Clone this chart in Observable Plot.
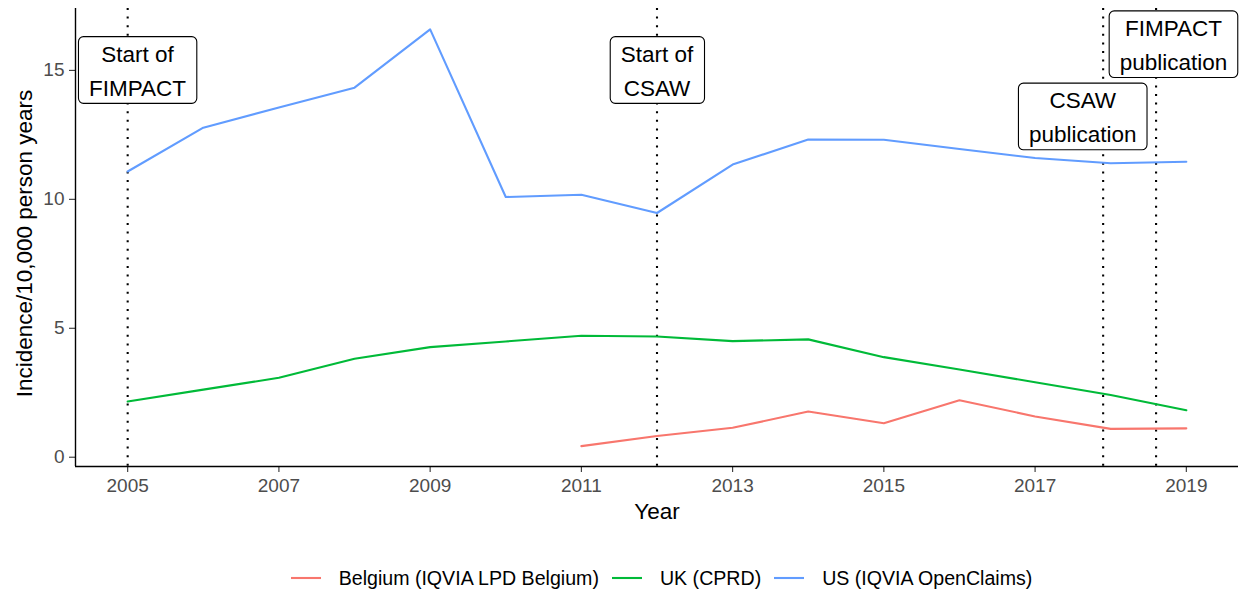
<!DOCTYPE html>
<html>
<head>
<meta charset="utf-8">
<script src="https://cdn.jsdelivr.net/npm/d3@7"></script>
<script src="https://cdn.jsdelivr.net/npm/@observablehq/plot@0.6"></script>
<style>
  body { margin: 0; background: #fff; font-family: "Liberation Sans", Arial, sans-serif; }
  #chart { width: 1239px; height: 592px; overflow: hidden; }
  .legend { display: flex; justify-content: center; align-items: center; margin-top: 26px; height: 24px; font-size: 19.6px; color: #000; transform: translateX(42px); }
  .legend .item { display: flex; align-items: center; margin: 0 6.5px; }
  .legend .item span { margin-left: 18px; white-space: nowrap; }
</style>
</head>
<body>
<div id="chart"></div>
<script>
// ---- data ----
const years = [2005, 2006, 2007, 2008, 2009, 2010, 2011, 2012, 2013, 2014, 2015, 2016, 2017, 2018, 2019];
const usValues = [11.08, 12.78, 13.56, 14.33, 16.59, 10.09, 10.18, 9.47, 11.35, 12.32, 12.31, 11.95, 11.60, 11.40, 11.46];
const ukValues = [2.16, 2.62, 3.08, 3.82, 4.27, 4.49, 4.71, 4.68, 4.50, 4.57, 3.88, 3.40, 2.91, 2.41, 1.82];
const belgiumYears = [2011, 2012, 2013, 2014, 2015, 2016, 2017, 2018, 2019];
const belgiumValues = [0.43, 0.82, 1.14, 1.77, 1.32, 2.21, 1.58, 1.10, 1.12];
const seriesNames = ["Belgium (IQVIA LPD Belgium)", "UK (CPRD)", "US (IQVIA OpenClaims)"];
const seriesColors = ["#F8766D", "#00BA38", "#619CFF"];
const eventDates = [2005, 2012, 2017.9, 2018.6];
const eventLabels = ["Start of\nFIMPACT", "Start of\nCSAW", "CSAW\npublication", "FIMPACT\npublication"];
const eventLabelX = [2005.13, 2012, 2017.63, 2018.83];
const eventLabelY = [15.1, 15.1, 13.3, 16.1];
const xTicks = [2005, 2007, 2009, 2011, 2013, 2015, 2017, 2019];
const yTicks = [0, 5, 10, 15];
const xDomain = [2004.31, 2019.69];
const yDomain = [-0.36, 17.40];

// ---- tables ----
const rows = [
  ...belgiumYears.map((yr, i) => ({year: yr, value: belgiumValues[i], series: seriesNames[0]})),
  ...years.map((yr, i) => ({year: yr, value: ukValues[i], series: seriesNames[1]})),
  ...years.map((yr, i) => ({year: yr, value: usValues[i], series: seriesNames[2]}))
];
const labelRows = eventLabels.map((t, i) => ({x: eventLabelX[i], y: eventLabelY[i], text: t}));

const fontFamily = '"Liberation Sans", Arial, sans-serif';

const plot = Plot.plot({
  width: 1239,
  height: 540,
  marginLeft: 75,
  marginRight: 1,
  marginTop: 8,
  marginBottom: 74,
  style: {fontFamily, background: "#fff", overflow: "visible"},
  x: {domain: xDomain},
  y: {domain: yDomain},
  color: {domain: seriesNames, range: seriesColors},
  marks: [
    Plot.ruleX(eventDates, {stroke: "#000", strokeWidth: 2.1, strokeDasharray: "2,6.6"}),
    Plot.line(rows, {x: "year", y: "value", stroke: "series", z: "series", strokeWidth: 2.1}),
    Plot.text(labelRows, {x: "x", y: "y", text: "text", fontSize: 22.5, lineHeight: 1.52, fill: "#000"}),
    Plot.axisX({ticks: xTicks, tickSize: 6, tickPadding: 6, tickFormat: d => String(d), fontSize: 19, fill: "#4D4D4D", stroke: "#333", strokeWidth: 1.1, label: null}),
    Plot.axisY({ticks: yTicks, tickSize: 6, tickPadding: 5, tickFormat: d => String(d), fontSize: 19, fill: "#4D4D4D", stroke: "#333", strokeWidth: 1.1, label: null}),
    Plot.ruleY([yDomain[0]], {stroke: "#000", strokeWidth: 1.4}),
    Plot.ruleX([xDomain[0]], {stroke: "#000", strokeWidth: 1.4}),
    Plot.text(["Year"], {frameAnchor: "bottom", dy: 45, lineAnchor: "middle", fontSize: 22.5, fill: "#000"}),
    Plot.text(["Incidence/10,000 person years"], {frameAnchor: "left", rotate: -90, dx: -51, dy: 6, textAnchor: "middle", lineAnchor: "middle", fontSize: 22.5, fill: "#000"})
  ]
});

const chart = document.getElementById("chart");
chart.appendChild(plot);

// boxes behind the event labels (geom_label style)
const ns = "http://www.w3.org/2000/svg";
const wanted = new Set(eventLabels.map(s => s.replace(/\n/g, "")));
plot.querySelectorAll("text").forEach(t => {
  if (!wanted.has(t.textContent)) return;
  const b = t.getBBox();
  const r = document.createElementNS(ns, "rect");
  const padX = 10.5, padTop = 5, padBottom = 2.5;
  r.setAttribute("x", b.x - padX);
  r.setAttribute("y", b.y - padTop);
  r.setAttribute("width", b.width + 2 * padX);
  r.setAttribute("height", b.height + padTop + padBottom);
  r.setAttribute("rx", 5);
  r.setAttribute("ry", 5);
  r.setAttribute("fill", "#fff");
  r.setAttribute("stroke", "#000");
  r.setAttribute("stroke-width", 1.1);
  const tr = t.getAttribute("transform");
  if (tr) r.setAttribute("transform", tr);
  t.parentNode.insertBefore(r, t);
});

// legend
const legend = document.createElement("div");
legend.className = "legend";
seriesNames.forEach((name, i) => {
  const item = document.createElement("div");
  item.className = "item";
  const sw = document.createElementNS(ns, "svg");
  sw.setAttribute("width", 30);
  sw.setAttribute("height", 20);
  const ln = document.createElementNS(ns, "line");
  ln.setAttribute("x1", 0); ln.setAttribute("x2", 30);
  ln.setAttribute("y1", 10); ln.setAttribute("y2", 10);
  ln.setAttribute("stroke", seriesColors[i]);
  ln.setAttribute("stroke-width", 2.1);
  sw.appendChild(ln);
  const sp = document.createElement("span");
  sp.textContent = name;
  item.appendChild(sw);
  item.appendChild(sp);
  legend.appendChild(item);
});
chart.appendChild(legend);
</script>
</body>
</html>
